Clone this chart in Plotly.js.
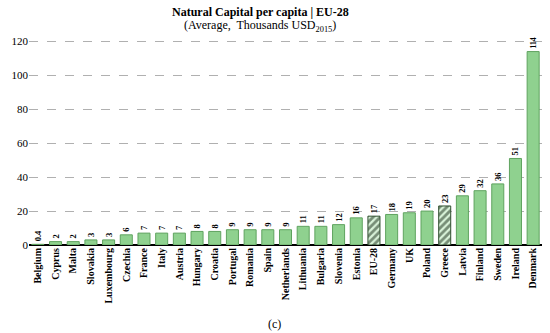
<!DOCTYPE html>
<html>
<head>
<meta charset="utf-8">
<script src="https://cdn.plot.ly/plotly-3.0.1.min.js"></script>
<style>html,body{margin:0;padding:0;background:#fff;}#chart{width:550px;height:333px;}</style>
</head>
<body>
<div id="chart"></div>
<script>
const countries = ["Belgium","Cyprus","Malta","Slovakia","Luxembourg","Czechia","France","Italy","Austria","Hungary","Croatia","Portugal","Romania","Spain","Netherlands","Lithuania","Bulgaria","Slovenia","Estonia","EU-28","Germany","UK","Poland","Greece","Latvia","Finland","Sweden","Ireland","Denmark"];
const values = [0.4,2,2,3,3,6,7,7,7,8,8,9,9,9,9,11,11,12,16,17,18,19,20,23,29,32,36,51,114];
const valueLabels = ["0.4","2","2","3","3","6","7","7","7","8","8","9","9","9","9","11","11","12","16","17","18","19","20","23","29","32","36","51","114"];
const hatched = ["EU-28","Greece"];
const yTicks = [0,20,40,60,80,100,120];
const titleText = "Natural Capital per capita | EU-28";
const subtitleText = "(Average,  Thousands USD<sub>2015</sub>)";

const serif = "Liberation Serif, Times New Roman, serif";
const isH = countries.map(c => hatched.includes(c));

const plain = {
  type: "bar",
  x: countries,
  y: values.map((v, i) => isH[i] ? null : v),
  marker: {color: "#8fd18f", line: {color: "#5fa35f", width: 1}},
  hoverinfo: "skip"
};

const hatch = {
  type: "bar",
  x: countries,
  y: values.map((v, i) => isH[i] ? v : null),
  marker: {
    color: "#d8f2d8",
    line: {color: "#2f4f2f", width: 1},
    pattern: {shape: "/", fgcolor: "#142814", bgcolor: "#d8f2d8", size: 5, solidity: 0.55, fillmode: "overlay"}
  },
  hoverinfo: "skip"
};

const labels = {
  type: "bar",
  x: countries,
  y: values,
  text: valueLabels,
  textposition: "outside",
  textangle: -90,
  cliponaxis: false,
  textfont: {family: serif, size: 8.5, color: "#000", weight: "bold"},
  marker: {color: "rgba(0,0,0,0)", line: {width: 0}},
  hoverinfo: "skip"
};

const layout = {
  width: 550, height: 333,
  margin: {l: 29, r: 8, t: 38, b: 88},
  paper_bgcolor: "#fff", plot_bgcolor: "#fff",
  showlegend: false,
  barmode: "overlay",
  bargap: 0.32,
  xaxis: {
    type: "category",
    range: [-0.5, 28.5],
    tickangle: -90,
    tickfont: {family: serif, size: 10, color: "#000", weight: "bold"},
    showline: false, showgrid: false, ticks: "", ticklen: 0,
    automargin: false
  },
  yaxis: {
    range: [0, 122],
    tickvals: yTicks,
    ticktext: yTicks.map(String),
    tickfont: {family: serif, size: 11, color: "#000"},
    showgrid: true, gridcolor: "#b0b0b0", griddash: "dash", gridwidth: 1,
    zeroline: true, zerolinecolor: "#000", zerolinewidth: 2,
    showline: false, ticks: "", automargin: false
  },
  annotations: [
    {text: "<b>" + titleText + "</b>", xref: "paper", yref: "paper",
     x: (260-29)/513, y: (245-12)/207.4,
     xanchor: "center", yanchor: "middle", showarrow: false,
     font: {family: serif, size: 12, color: "#000"}},
    {text: subtitleText, xref: "paper", yref: "paper",
     x: (260-29)/513, y: (245-26)/207.4,
     xanchor: "center", yanchor: "middle", showarrow: false,
     font: {family: serif, size: 12, color: "#000"}},
    {text: "(c)", xref: "paper", yref: "paper", x: (274-29)/513, y: -(324-245)/207.4,
     xanchor: "center", yanchor: "middle", showarrow: false,
     font: {family: serif, size: 12, color: "#000"}}
  ]
};

Plotly.newPlot("chart", [plain, hatch, labels], layout, {displayModeBar: false, staticPlot: true});
</script>
</body>
</html>
